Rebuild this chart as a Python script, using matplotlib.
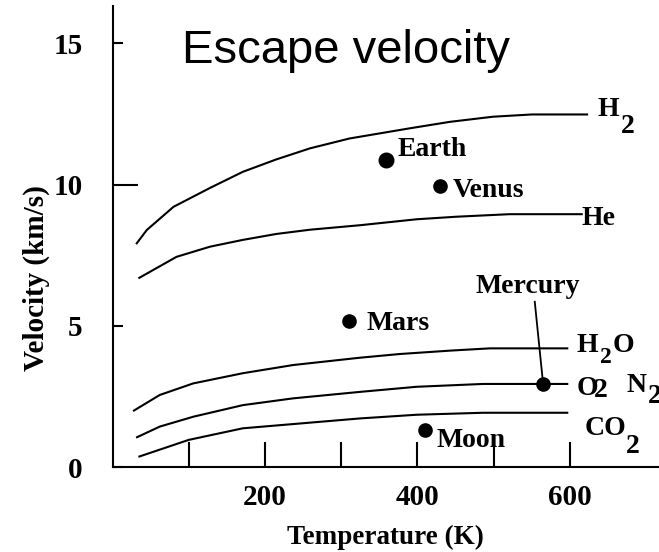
import matplotlib
matplotlib.use("Agg")
import matplotlib.pyplot as plt

# Escape velocity vs. temperature for gases, with bodies of the solar system
h2_T = [31, 45, 80, 128, 171, 215, 259, 311, 390, 443, 499, 550, 624]
h2_v = [7.89, 8.39, 9.21, 9.88, 10.45, 10.89, 11.28, 11.63, 11.99, 12.22, 12.40, 12.48, 12.48]

he_T = [34, 84, 128, 171, 215, 259, 325, 399, 451, 521, 617]
he_v = [6.68, 7.44, 7.80, 8.04, 8.25, 8.40, 8.56, 8.77, 8.86, 8.95, 8.95]

h2o_T = [27, 62, 106, 171, 237, 325, 377, 443, 495, 598]
h2o_v = [1.98, 2.55, 2.96, 3.32, 3.61, 3.87, 4.00, 4.12, 4.20, 4.20]

o2_T = [31, 62, 106, 171, 237, 325, 399, 486, 598]
o2_v = [1.04, 1.43, 1.78, 2.19, 2.43, 2.66, 2.84, 2.94, 2.94]

co2_T = [34, 100, 171, 237, 325, 399, 486, 598]
co2_v = [0.36, 0.96, 1.37, 1.52, 1.72, 1.85, 1.92, 1.92]

bodies = ["Earth", "Venus", "Mars", "Mercury", "Moon"]
body_T = [359, 429.5, 310.5, 565, 410]
body_v = [10.87, 9.95, 5.17, 2.93, 1.31]

mercury_leader_T = [554, 565]
mercury_leader_v = [5.85, 2.93]

x_major = [200, 400, 600]
x_minor = [100, 300, 500]
y_major = [0, 5, 10, 15]

SERIF = "Liberation Serif"
LW = 1.5

fig = plt.figure(figsize=(6.59, 5.52), dpi=100)
ax = fig.add_axes([112.5 / 659, 85 / 552, 1 - 112.5 / 659, (467 - 6) / 552])
ax.set_xlim(0, 717)
ax.set_ylim(0, 16.32)

for T, v in [(h2_T, h2_v), (he_T, he_v), (h2o_T, h2o_v), (o2_T, o2_v), (co2_T, co2_v)]:
    ax.plot(T, v, color="black", lw=LW, solid_capstyle="butt", solid_joinstyle="round")

ax.plot(mercury_leader_T, mercury_leader_v, color="black", lw=1.3)
for name, T, v in zip(bodies, body_T, body_v):
    ax.plot(T, v, "o", color="black", ms=10.5 if name == "Earth" else 9.5)

# body labels
tkw = dict(family=SERIF, weight="bold", fontsize=20, color="black")
ax.text(374.4, 11.01, "Earth", ha="left", va="baseline", **tkw)
ax.text(446.6, 9.57, "Venus", ha="left", va="baseline", **tkw)
ax.text(333.4, 4.85, "Mars", ha="left", va="baseline", **tkw)
ax.text(545, 6.16, "Mercury", ha="center", va="baseline", **tkw)
ax.text(425.2, 0.72, "Moon", ha="left", va="baseline", **tkw)

# gas labels, subscripts drawn as separate lowered digits
gkw = dict(family=SERIF, weight="bold", fontsize=20, color="black",
           ha="left", va="baseline", clip_on=False)
ax.text(636.7, 12.42, "H", **gkw)
ax.text(667.0, 11.82, "2", **gkw)
ax.text(615.7, 8.57, "He", **gkw)
ax.text(609.2, 4.07, "H", **gkw)
ax.text(639.3, 3.68, "2", family=SERIF, weight="bold", fontsize=17,
        ha="left", va="baseline")
ax.text(656.4, 4.07, "O", **gkw)
ax.text(609.2, 2.55, "O", **gkw)
ax.text(631.0, 2.48, "2", **gkw)
ax.text(674.8, 2.65, "N", **gkw)
ax.text(702.3, 2.27, "2", **gkw)
ax.text(619.7, 1.13, "CO", **gkw)
ax.text(673.0, 0.50, "2", **gkw)

ax.text(91, 14.3, "Escape velocity", family="Liberation Sans", fontsize=34,
        ha="left", va="baseline", color="black")

# axes styling
for side in ("top", "right"):
    ax.spines[side].set_visible(False)
for side in ("left", "bottom"):
    ax.spines[side].set_linewidth(LW)

ax.set_xticks(x_major)
ax.set_xticks(x_minor, minor=True)
ax.set_yticks(y_major)
ax.tick_params(axis="x", which="both", direction="in", length=18, width=LW, pad=12)
ax.tick_params(axis="y", which="both", direction="in", length=7, width=LW, pad=21.5)
ax.yaxis.get_major_ticks()[2].tick1line.set_markersize(18)

for lab in ax.get_xticklabels() + ax.get_yticklabels():
    lab.set_family(SERIF)
    lab.set_weight("bold")
    lab.set_fontsize(21)

ax.set_xlabel("Temperature (K)", family=SERIF, weight="bold", fontsize=19.5, labelpad=10)
ax.set_ylabel("Velocity (km/s)", family=SERIF, weight="bold", fontsize=21)
ax.yaxis.set_label_coords(-0.114, 0.41)

fig.savefig("out.png", dpi=100)
